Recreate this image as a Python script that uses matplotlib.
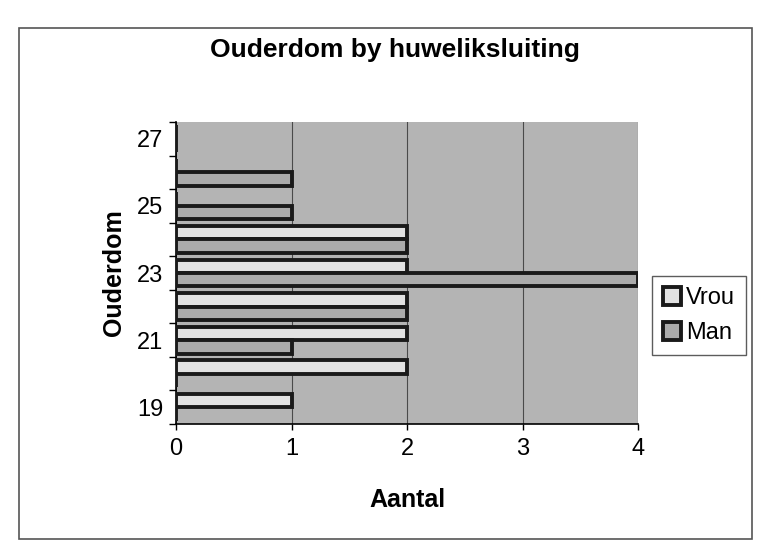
import numpy as np
import matplotlib
matplotlib.use("Agg")
import matplotlib.pyplot as plt
from matplotlib.patches import Rectangle

plt.rcParams["font.family"] = ["Liberation Sans", "DejaVu Sans"]

# Data
ages = [19, 20, 21, 22, 23, 24, 25, 26, 27]
vrou = [1, 2, 2, 2, 2, 2, 0, 0, 0]
man = [0, 0, 1, 2, 4, 2, 1, 1, 0]
age_labels = ["19", "21", "23", "25", "27"]
x_ticks = [0, 1, 2, 3, 4]

fig = plt.figure(figsize=(7.69, 5.52), dpi=100)
fig.patch.set_facecolor("white")

# outer chart frame
fig.patches.append(Rectangle((19 / 769, 1 - 539 / 552), 733 / 769, 511 / 552,
                             transform=fig.transFigure, fill=False,
                             edgecolor="#555555", linewidth=1.2))

ax = fig.add_axes([176 / 769, 1 - 424 / 552, 462 / 769, 302 / 552])
ax.set_facecolor("#b4b4b4")

y = np.arange(len(ages))
h = 0.4
ax.barh(y + h / 2, vrou, height=h, color="#e2e2e2", edgecolor="#1a1a1a",
        linewidth=2.8, label="Vrou", zorder=3)
ax.barh(y - h / 2, man, height=h, color="#ababab", edgecolor="#1a1a1a",
        linewidth=2.8, label="Man", zorder=3)

ax.set_xlim(0, 4)
ax.set_ylim(-0.5, len(ages) - 0.5)
ax.set_xticks(x_ticks)
ax.set_xticklabels([str(v) for v in x_ticks], fontsize=17)
ax.xaxis.grid(True, color="#4a4a4a", linewidth=0.8, zorder=1)

# category boundary ticks, labels every second age
ax.set_yticks(np.arange(len(ages) + 1) - 0.5)
ax.set_yticklabels([])
ax.set_yticks(y[::2], minor=True)
ax.set_yticklabels(age_labels, minor=True, fontsize=17)
ax.tick_params(axis="y", which="minor", length=0, pad=9)
ax.tick_params(axis="y", which="major", length=5, width=1)
ax.tick_params(axis="x", length=4, width=1, pad=6)

for s in ["top", "right"]:
    ax.spines[s].set_visible(False)
ax.spines["left"].set_linewidth(1.2)
ax.spines["bottom"].set_linewidth(1.2)

ax.set_xlabel("Aantal", fontsize=18, fontweight="bold", labelpad=20)
ax.set_ylabel("Ouderdom", fontsize=18, fontweight="bold", labelpad=8)

fig.text(395 / 769, 1 - 50 / 552, "Ouderdom by huweliksluiting",
         ha="center", va="center", fontsize=19, fontweight="bold")

leg = ax.legend(loc="center left", bbox_to_anchor=(1.02, 0.36), fontsize=17,
                frameon=True, fancybox=False, edgecolor="#333333",
                handlelength=0.8, handleheight=0.8, handletextpad=0.2,
                borderpad=0.45, labelspacing=0.55, borderaxespad=0.2)
leg.get_frame().set_linewidth(1.0)

fig.savefig("out.png", dpi=100)
